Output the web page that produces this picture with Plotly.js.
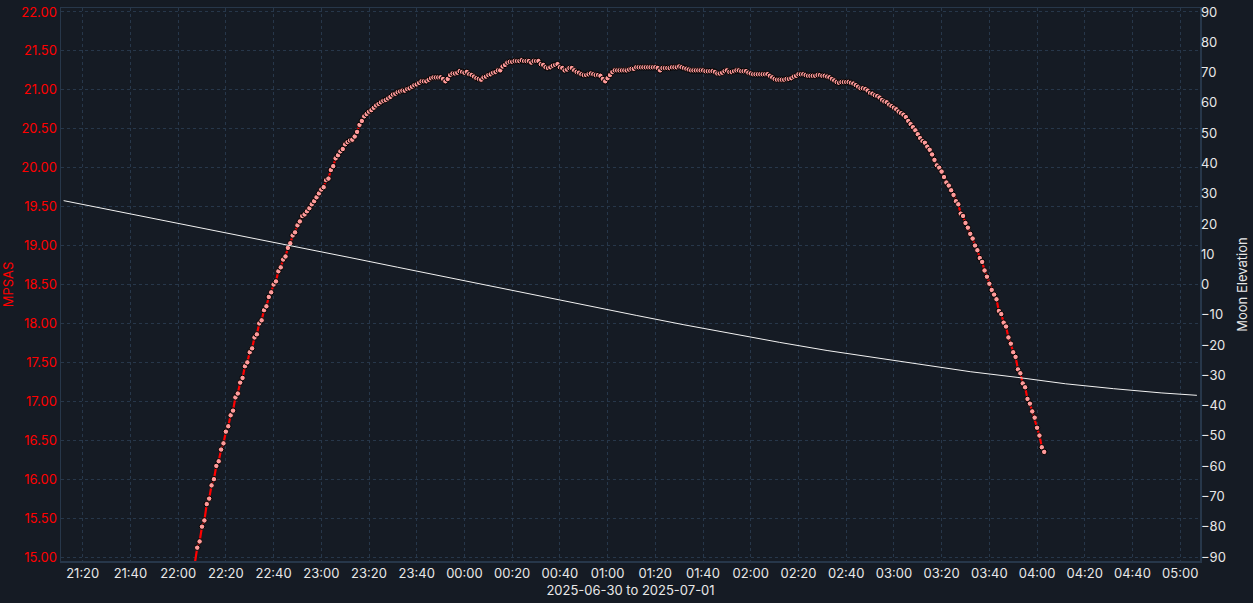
<!DOCTYPE html>
<html>
<head>
<meta charset="utf-8">
<script src="https://cdn.plot.ly/plotly-3.0.1.min.js"></script>
<style>
  html, body { margin: 0; padding: 0; background: #151b24; }
  #chart { width: 1253px; height: 603px; }
</style>
</head>
<body>
<div id="chart"></div>
<script>
// sky brightness, one reading per minute starting at startTime
var startTime = '2025-06-30T22:06:00';
var stepMinutes = 1;
var mpsas = [
  14.72, 14.90,
  15.12, 15.20, 15.39, 15.47, 15.68, 15.75, 15.92, 16.00, 16.17, 16.23,
  16.38, 16.46, 16.61, 16.68, 16.82, 16.88, 17.05, 17.10, 17.24, 17.30,
  17.45, 17.50, 17.63, 17.68, 17.82, 17.86, 18.00, 18.04, 18.17, 18.22,
  18.34, 18.40, 18.50, 18.54, 18.67, 18.72, 18.82, 18.86, 18.97, 19.03,
  19.13, 19.17, 19.26, 19.31, 19.38, 19.40, 19.44, 19.48, 19.53, 19.57,
  19.62, 19.67, 19.72, 19.75, 19.84, 19.86, 19.97, 20.02, 20.12, 20.16, 20.21,
  20.24, 20.30, 20.33, 20.35, 20.36, 20.40, 20.46, 20.55, 20.60, 20.66,
  20.69, 20.72, 20.74, 20.77, 20.80, 20.82, 20.84, 20.86, 20.87, 20.89,
  20.91, 20.94, 20.95, 20.97, 20.98, 20.99, 20.99, 21.01, 21.02, 21.04,
  21.06, 21.07, 21.09, 21.11, 21.11, 21.11, 21.13, 21.15, 21.16, 21.16,
  21.16, 21.16, 21.14, 21.11, 21.14, 21.19, 21.21, 21.21, 21.22, 21.24,
  21.23, 21.22, 21.23, 21.20, 21.19, 21.17, 21.15, 21.14, 21.13, 21.16,
  21.17, 21.19, 21.20, 21.22, 21.23, 21.25, 21.25, 21.30, 21.32, 21.35,
  21.36, 21.36, 21.37, 21.37, 21.37, 21.38, 21.37, 21.37, 21.37, 21.35,
  21.37, 21.37, 21.37, 21.33, 21.32, 21.29, 21.28, 21.29, 21.31, 21.32,
  21.33, 21.29, 21.28, 21.25, 21.26, 21.28, 21.28, 21.25, 21.23, 21.22,
  21.20, 21.19, 21.19, 21.20, 21.21, 21.20, 21.19,
  21.19, 21.18, 21.14, 21.11, 21.15, 21.19, 21.23, 21.25, 21.25, 21.25,
  21.25, 21.25, 21.25, 21.26, 21.27, 21.27, 21.29, 21.29, 21.29, 21.29,
  21.29, 21.29, 21.29, 21.29, 21.29, 21.28, 21.25, 21.28, 21.28, 21.28,
  21.28, 21.29, 21.29, 21.29, 21.30, 21.29, 21.28, 21.27, 21.26, 21.25,
  21.25, 21.25, 21.25, 21.25, 21.25, 21.24, 21.24, 21.24, 21.24, 21.23,
  21.21, 21.21, 21.22, 21.24, 21.25, 21.23, 21.23, 21.24, 21.25, 21.25,
  21.24, 21.24, 21.24, 21.22, 21.21, 21.20, 21.20, 21.20, 21.20, 21.20,
  21.20, 21.20, 21.18, 21.16, 21.14, 21.13, 21.13, 21.13, 21.13, 21.14,
  21.14, 21.15, 21.17, 21.18, 21.20, 21.20, 21.20, 21.19, 21.18, 21.18,
  21.18, 21.18, 21.19, 21.19, 21.18, 21.18, 21.17, 21.16, 21.14, 21.12,
  21.10, 21.09, 21.10, 21.10, 21.10, 21.10, 21.09, 21.08, 21.06, 21.04,
  21.02, 21.02, 21.01, 20.99, 20.96, 20.95, 20.93, 20.92, 20.90, 20.87,
  20.85, 20.84, 20.81, 20.79, 20.77, 20.75, 20.72,
  20.70, 20.68, 20.65, 20.60, 20.56, 20.52, 20.48, 20.43, 20.38, 20.34,
  20.32, 20.27, 20.23, 20.17, 20.10, 20.03, 20.00, 19.95, 19.88, 19.81,
  19.77, 19.71, 19.65, 19.57, 19.53, 19.41, 19.38, 19.29, 19.23, 19.15,
  19.09, 19.00, 18.94, 18.84, 18.79, 18.68, 18.60, 18.51, 18.43, 18.37,
  18.31, 18.16, 18.12, 18.01, 17.96, 17.82, 17.74, 17.63, 17.57, 17.41,
  17.36, 17.23, 17.18, 17.03, 16.97, 16.87, 16.79, 16.66, 16.56, 16.41, 16.35
];

var moonTimes = [
  '2025-06-30 21:12', '2025-06-30 21:32', '2025-06-30 21:52', '2025-06-30 22:12',
  '2025-06-30 22:32', '2025-06-30 22:52', '2025-06-30 23:12', '2025-06-30 23:32',
  '2025-06-30 23:52', '2025-07-01 00:12', '2025-07-01 00:32', '2025-07-01 00:52',
  '2025-07-01 01:12', '2025-07-01 01:32', '2025-07-01 01:52', '2025-07-01 02:12',
  '2025-07-01 02:32', '2025-07-01 02:52', '2025-07-01 03:12', '2025-07-01 03:32',
  '2025-07-01 03:52', '2025-07-01 04:12', '2025-07-01 04:32', '2025-07-01 04:52',
  '2025-07-01 05:07'
];
var moonElevation = [
  27.7, 24.6, 21.5, 18.3, 15.2, 12.1, 8.9, 5.7, 2.5, -0.8, -3.9, -7.1, -10.2,
  -13.3, -16.3, -19.1, -21.8, -24.2, -26.6, -28.8, -30.7, -32.8, -34.4, -35.8, -36.6
];

function fmt(d) {
  function p(n) { return (n < 10 ? '0' : '') + n; }
  return d.getFullYear() + '-' + p(d.getMonth() + 1) + '-' + p(d.getDate()) + ' ' +
    p(d.getHours()) + ':' + p(d.getMinutes());
}
var t0 = new Date(startTime).getTime();
var mpsasTimes = mpsas.map(function (v, i) {
  return fmt(new Date(t0 + i * stepMinutes * 60000));
});

var gridColor = '#27374a';
var bg = '#151b24';

var traces = [
  {
    x: moonTimes,
    y: moonElevation,
    yaxis: 'y2',
    type: 'scatter',
    mode: 'lines',
    line: { color: '#f2f2f2', width: 1 },
    hoverinfo: 'skip'
  },
  {
    x: mpsasTimes,
    y: mpsas,
    type: 'scatter',
    mode: 'lines+markers',
    line: { color: '#ff0000', width: 2.2 },
    marker: { symbol: 'circle', size: 5.5, color: '#ff9a9a', line: { color: '#000000', width: 1 } }
  }
];

var layout = {
  paper_bgcolor: bg,
  plot_bgcolor: bg,
  margin: { l: 61, r: 53, t: 8, b: 42 },
  showlegend: false,
  font: { family: 'Inter, sans-serif', size: 13, color: '#e8e8e8' },
  xaxis: {
    type: 'date',
    range: ['2025-06-30 21:10:54', '2025-07-01 05:08:18'],
    tick0: '2025-06-30 21:20',
    dtick: 20 * 60 * 1000,
    tickformat: '%H:%M',
    showgrid: true,
    gridcolor: gridColor,
    griddash: '3px,3px',
    showline: true,
    mirror: true,
    linecolor: gridColor,
    linewidth: 1.5,
    zeroline: false,
    ticks: '',
    title: { text: '2025-06-30 to 2025-07-01', font: { size: 13, color: '#e8e8e8' }, standoff: 6 }
  },
  yaxis: {
    range: [14.949, 22.051],
    tick0: 15,
    dtick: 0.5,
    tickformat: '.2f',
    showgrid: true,
    gridcolor: gridColor,
    griddash: '3px,3px',
    showline: true,
    mirror: true,
    linecolor: gridColor,
    linewidth: 1.5,
    zeroline: false,
    ticks: '',
    tickfont: { color: '#ff0000' },
    title: { text: 'MPSAS', font: { size: 13, color: '#ff0000' }, standoff: 4 }
  },
  yaxis3: {
    overlaying: 'y',
    range: [14.949, 22.051],
    tick0: 15,
    dtick: 1,
    showgrid: true,
    gridcolor: gridColor,
    gridwidth: 1.2,
    showticklabels: false,
    showline: false,
    zeroline: false,
    ticks: ''
  },
  yaxis2: {
    overlaying: 'y',
    side: 'right',
    range: [-91.32, 91.32],
    tick0: 0,
    dtick: 10,
    showgrid: false,
    zeroline: false,
    showline: false,
    ticks: '',
    tickfont: { color: '#e8e8e8' },
    title: { text: 'Moon Elevation', font: { size: 13, color: '#e8e8e8' }, standoff: 12 }
  }
};

Plotly.newPlot('chart', traces, layout, { displayModeBar: false, staticPlot: true });
</script>
</body>
</html>
